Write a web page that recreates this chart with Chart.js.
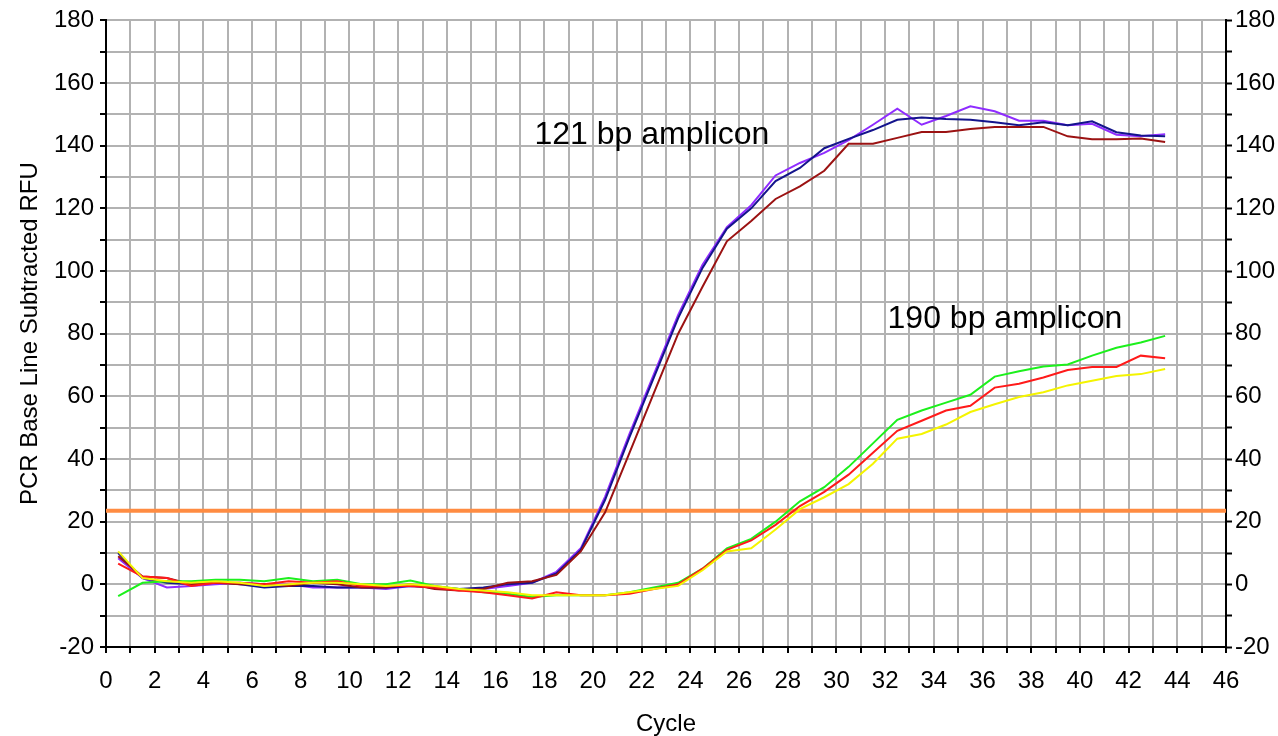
<!DOCTYPE html>
<html>
<head>
<meta charset="utf-8">
<script src="https://cdn.jsdelivr.net/npm/chart.js@4/dist/chart.umd.min.js"></script>
<style>
  html, body { margin: 0; padding: 0; background: #fff; }
  canvas { display: block; }
</style>
</head>
<body>
<canvas id="pcr" width="1278" height="736"></canvas>
<script>
// cycle positions (plotted half a cycle left)
const cycles = [0.5,1.5,2.5,3.5,4.5,5.5,6.5,7.5,8.5,9.5,10.5,11.5,12.5,13.5,14.5,15.5,16.5,17.5,18.5,19.5,20.5,21.5,
  22.5,23.5,24.5,25.5,26.5,27.5,28.5,29.5,30.5,31.5,32.5,33.5,34.5,35.5,36.5,37.5,38.5,39.5,40.5,41.5,42.5,43.5];

// 121 bp amplicon
const navy = [10,2,0.5,0,1,0,-1,-0.5,-0.5,-1,-1,-1,-0.5,-1,-1.5,-1,0,0.5,3.5,11,27,47,66,85,
  101,113.5,120,128.7,132.9,139.2,142.2,145,148.3,149,148.5,148.3,147.5,146.5,147.5,146.5,147.8,144.3,143.3,143];
const purple = [8.3,2,-1,-0.5,0,0.5,0,0,-1,-1,-1,-1.5,-0.5,-1,-1.5,-1.5,-0.5,0.5,4,11.5,28,48,67,86,
  102,114,121,130.5,134.5,137.7,141.8,146.7,151.8,146.7,149.5,152.6,151,148,148,146.5,147,143.5,143,143.7];
const darkRed = [9,2.5,2,0,0.5,0,0,-0.5,0.5,0,-1,-1,0,-1.5,-2,-1.5,0.5,1,3,10.5,23,42,61,80,
  95,109.5,116,123,127,132,140.6,140.6,142.5,144.4,144.4,145.3,146,146,146,143,142.1,142.1,142.3,141.2];

// 190 bp amplicon
const green = [-3.8,0.5,1,1,1.5,1.5,1,2,1,1.5,0,0,1.2,-0.5,-1.5,-2.5,-3,-4,-3.5,-3.5,-3.5,-2.5,-1,0.5,
  5,11.5,14.5,20,26.5,31,37.5,45,52.5,55.5,58,60.5,66.3,68,69.5,70.2,73,75.5,77.2,79.3];
const red = [6.6,2.5,2,-0.5,0.5,0.5,0,1,0.5,1,-0.5,-0.5,-0.5,-1,-2,-2.5,-3.5,-4.5,-2.5,-3.5,-3.5,-3,-1.5,0,
  5,11,14,19,25,29.5,35,42,49,52.2,55.5,57,62.8,64,66,68.4,69.4,69.4,73,72.2];
const yellow = [10.5,2,1,0.5,1,0.5,-0.5,0,0.5,0.5,0,-0.5,0,-0.5,-1.5,-2,-2.5,-3.5,-3.5,-3.5,-3.5,-2.5,-1.5,-0.5,
  4.5,10.5,11.5,17.5,24,27.8,32,38.5,46.5,48,51,55,57.5,59.8,61.3,63.5,65,66.5,67.1,68.7];

// threshold line
const thresholdX = [0, 46];
const thresholdY = 23.5;

// text notes: [label, cycle, RFU at baseline]
const notes = [
  ['121 bp amplicon', 17.6, 140.6],
  ['190 bp amplicon', 32.1, 81.9]
];

const FONT = 'Liberation Sans, Arial, sans-serif';

function pts(ys) {
  return cycles.map((c, i) => ({ x: c, y: ys[i] }));
}

function curve(ys, color) {
  return {
    data: pts(ys),
    borderColor: color,
    borderWidth: 2,
    pointRadius: 0,
    tension: 0,
    fill: false,
    order: 1
  };
}

const notePlugin = {
  id: 'notes',
  afterDatasetsDraw(chart) {
    const ctx = chart.ctx;
    const xs = chart.scales.x, ys = chart.scales.y;
    ctx.save();
    ctx.font = '32px ' + FONT;
    ctx.fillStyle = '#000';
    ctx.textBaseline = 'alphabetic';
    notes.forEach(n => {
      ctx.fillText(n[0], xs.getPixelForValue(n[1]), ys.getPixelForValue(n[2]));
    });
    ctx.restore();
  }
};

const tickFont = { family: FONT, size: 24 };

new Chart(document.getElementById('pcr'), {
  type: 'line',
  data: {
    datasets: [
      {
        data: thresholdX.map(x => ({ x: x, y: thresholdY })),
        borderColor: '#ff8c42',
        borderWidth: 4,
        pointRadius: 0,
        order: 2
      },
      curve(yellow, '#f4f400'),
      curve(red, '#ff1a1a'),
      curve(green, '#1cf01c'),
      curve(darkRed, '#9b1212'),
      curve(navy, '#14148c'),
      curve(purple, '#8f2cff')
    ]
  },
  options: {
    responsive: false,
    animation: false,
    layout: { padding: { top: 19, left: 0, right: 0, bottom: 0 } },
    plugins: { legend: { display: false }, tooltip: { enabled: false } },
    scales: {
      x: {
        type: 'linear',
        min: 0, max: 46,
        afterFit(s) { s.height = 89; },
        border: { color: '#000', width: 2 },
        grid: { color: '#b2b2b2', lineWidth: 2, tickColor: '#000', tickLength: 6, tickWidth: 2 },
        ticks: {
          stepSize: 1, autoSkip: false, maxRotation: 0, padding: 14,
          color: '#000', font: tickFont,
          callback: v => (v % 2 === 0 ? String(v) : '')
        },
        title: { display: true, text: 'Cycle', color: '#000', font: tickFont, padding: { top: 0, bottom: -3 } }
      },
      y: {
        position: 'left',
        min: -20, max: 180,
        afterFit(s) { s.width = 106; },
        border: { color: '#000', width: 2 },
        grid: { color: '#b2b2b2', lineWidth: 2, tickColor: '#000', tickLength: 6, tickWidth: 2 },
        ticks: {
          stepSize: 10, autoSkip: false, padding: 6,
          color: '#000', font: tickFont,
          callback: v => (v % 20 === 0 ? String(v) : '')
        },
        title: { display: true, text: 'PCR Base Line Subtracted RFU', color: '#000', font: tickFont, padding: { top: 16, bottom: 0 } }
      },
      y2: {
        position: 'right',
        min: -20, max: 180,
        afterFit(s) { s.width = 52; },
        border: { color: '#000', width: 2 },
        grid: { drawOnChartArea: false, tickColor: '#000', tickLength: 6, tickWidth: 2 },
        ticks: {
          stepSize: 10, autoSkip: false, padding: 3,
          color: '#000', font: tickFont,
          callback: v => (v % 20 === 0 ? String(v) : '')
        }
      }
    }
  },
  plugins: [notePlugin]
});
</script>
</body>
</html>
